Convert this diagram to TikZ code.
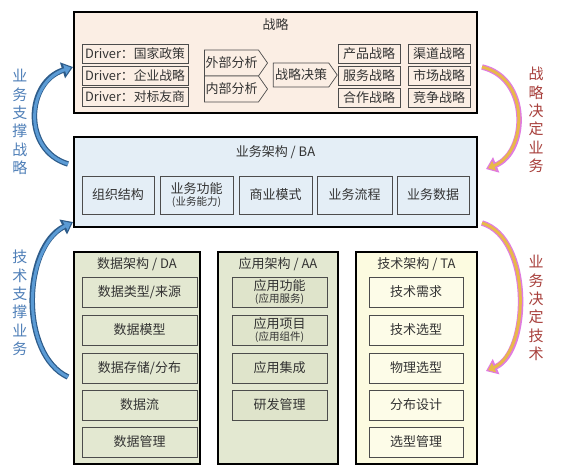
\documentclass[tikz,border=0pt]{standalone}
\usepackage{fontspec}
\setmainfont{Noto Sans CJK SC}
\usetikzlibrary{shapes.symbols,arrows.meta}
\definecolor{sfill}{HTML}{FBEEE4}
\definecolor{bfill}{HTML}{E4EEF6}
\definecolor{dfill}{HTML}{E3E8D1}
\definecolor{afill}{HTML}{DFE4CB}
\definecolor{tfill}{HTML}{FCFBE0}
\definecolor{tinner}{HTML}{FDFCE8}
\definecolor{txt}{HTML}{333333}
\definecolor{lblue}{HTML}{4F7FB8}
\definecolor{rred}{HTML}{A8403C}
\definecolor{bout}{HTML}{2E5C8A}
\definecolor{bin}{HTML}{5B9BD5}
\definecolor{pout}{HTML}{E07BE0}
\definecolor{pin}{HTML}{E8B84A}
\tikzset{
  outer/.style={draw=black, line width=1.3pt, inner sep=0pt},
  inner/.style={draw=black!70, line width=0.7pt, inner sep=0pt, text=txt, font=\fontsize{13}{15}\selectfont, align=center},
  ttl/.style={text=txt, font=\fontsize{13}{15}\selectfont, inner sep=0pt},
  sig/.style={draw=black!70, line width=0.7pt, inner sep=0pt, text=txt, font=\fontsize{13}{15}\selectfont, shape=signal, signal to=east, signal pointer angle=110},
  sidel/.style={text=lblue, font=\fontsize{15}{18.3}\selectfont, align=center, inner sep=0pt},
  sider/.style={text=rred, font=\fontsize{15}{18.3}\selectfont, align=center, inner sep=0pt},
  barrowo/.style={line width=5.5pt, color=bout, -{Triangle[length=11pt,width=16pt]}},
  barrowi/.style={line width=3pt, color=bin, shorten >=2.2pt, -{Triangle[length=6.5pt,width=10pt]}},
  parrowo/.style={line width=5.5pt, color=pout, -{Triangle[length=11pt,width=16pt]}},
  parrowi/.style={line width=3pt, color=pin, shorten >=2.2pt, -{Triangle[length=6.5pt,width=10pt]}},
}
\newcommand{\sm}[1]{{\fontsize{10.5}{12}\selectfont #1}}
\begin{document}
\begin{tikzpicture}[x=1pt,y=-1pt]
\useasboundingbox[fill=white] (0,0) rectangle (563,475);
% Strategy
\node[outer, fill=sfill, minimum width=403pt, minimum height=101pt] (S) at (275.5,62.5) {};
\node[ttl] (St) at (275.5,25) {战略};
\foreach \n/\y/\t in {d1/54/国家政策, d2/75.5/企业战略, d3/97/对标友商}
  \node[inner, fill=sfill, minimum width=106pt, minimum height=19pt, font=\fontsize{12.8}{14}\selectfont] (\n) at (135,\y) {Driver：\t};
\node[sig, fill=sfill, minimum width=63pt, minimum height=26pt] (ext) at (231.5,63) {外部分析\hspace{6pt}};
\node[sig, fill=sfill, minimum width=63pt, minimum height=26pt] (int) at (231.5,89) {内部分析\hspace{6pt}};
\node[sig, fill=sfill, minimum width=64pt, minimum height=24pt] (dec) at (301,75) {战略决策\hspace{6pt}};
\foreach \n/\x/\y/\t in {p1/369/53.5/产品战略, p2/369/75.5/服务战略, p3/369/97.5/合作战略, q1/439/53.5/渠道战略, q2/439/75.5/市场战略, q3/439/97.5/竞争战略}
  \node[inner, fill=sfill, minimum width=62pt, minimum height=19pt] (\n) at (\x,\y) {\t};
% BA
\node[outer, fill=bfill, minimum width=403pt, minimum height=90pt] (B) at (275.5,182) {};
\node[ttl] (Bt) at (275.5,152) {业务架构 / BA};
\node[inner, fill=bfill, minimum width=72pt, minimum height=38pt] (b1) at (118,195) {组织结构};
\node[inner, fill=bfill, minimum width=73pt, minimum height=38pt] (b2) at (196.5,195) {业务功能\\[-3pt]\sm{(业务能力)}};
\node[inner, fill=bfill, minimum width=73pt, minimum height=38pt] (b3) at (275.5,195) {商业模式};
\node[inner, fill=bfill, minimum width=75pt, minimum height=38pt] (b4) at (354.5,195) {业务流程};
\node[inner, fill=bfill, minimum width=72pt, minimum height=38pt] (b5) at (433,195) {业务数据};
% DA / AA / TA
\node[outer, fill=dfill, minimum width=126pt, minimum height=212pt] (D) at (137,358) {};
\node[outer, fill=dfill, minimum width=120pt, minimum height=212pt] (A) at (278,358) {};
\node[outer, fill=tfill, minimum width=121pt, minimum height=212pt] (T) at (416.5,358) {};
\node[ttl] (Dt) at (137,264) {数据架构 / DA};
\node[ttl] (At) at (278,264) {应用架构 / AA};
\node[ttl] (Tt) at (416.5,264) {技术架构 / TA};
\node[inner, fill=dfill, minimum width=115pt, minimum height=30pt] (da1) at (139.5,292) {数据类型/来源};
\node[inner, fill=dfill, minimum width=115pt, minimum height=30pt] (da2) at (139.5,330) {数据模型};
\node[inner, fill=dfill, minimum width=115pt, minimum height=30pt] (da3) at (139.5,368) {数据存储/分布};
\node[inner, fill=dfill, minimum width=115pt, minimum height=30pt] (da4) at (139.5,405) {数据流};
\node[inner, fill=dfill, minimum width=115pt, minimum height=30pt] (da5) at (139.5,442) {数据管理};
\node[inner, fill=afill, minimum width=95pt, minimum height=30pt] (aa1) at (279.5,292) {应用功能\\[-3pt]\sm{(应用服务)}};
\node[inner, fill=afill, minimum width=95pt, minimum height=30pt] (aa2) at (279.5,330) {应用项目\\[-3pt]\sm{(应用组件)}};
\node[inner, fill=afill, minimum width=95pt, minimum height=30pt] (aa3) at (279.5,368) {应用集成};
\node[inner, fill=afill, minimum width=95pt, minimum height=30pt] (aa4) at (279.5,405) {研发管理};
\foreach \n/\y/\t in {ta1/292/技术需求, ta2/330/技术选型, ta3/368/物理选型, ta4/405/分布设计, ta5/442/选型管理}
  \node[inner, fill=tinner, minimum width=94pt, minimum height=30pt] (\n) at (416,\y) {\t};
% side texts
\node[sidel] (L1) at (20,122) {业\\务\\支\\撑\\战\\略};
\node[sidel] (L2) at (20,303) {技\\术\\支\\撑\\业\\务};
\node[sider] (R1) at (536,120) {战\\略\\决\\定\\业\\务};
\node[sider] (R2) at (536,308) {业\\务\\决\\定\\技\\术};
% curved arrows
\coordinate (la1) at (68,164);
\coordinate (la2) at (73,67);
\coordinate (lb1) at (68,377);
\coordinate (lb2) at (73,222);
\coordinate (ra1) at (482,67);
\coordinate (ra2) at (486,169);
\coordinate (rb1) at (482,223);
\coordinate (rb2) at (486,371);
\foreach \s in {barrowo,barrowi}{
  \draw[\s] (la1) .. controls (22,150) and (26,82) .. (la2);
  \draw[\s] (lb1) .. controls (20,355) and (22,248) .. (lb2);
}
\foreach \s in {parrowo,parrowi}{
  \draw[\s] (ra1) .. controls (530,78) and (528,152) .. (ra2);
  \draw[\s] (rb1) .. controls (532,238) and (530,352) .. (rb2);
}
\end{tikzpicture}
\end{document}
